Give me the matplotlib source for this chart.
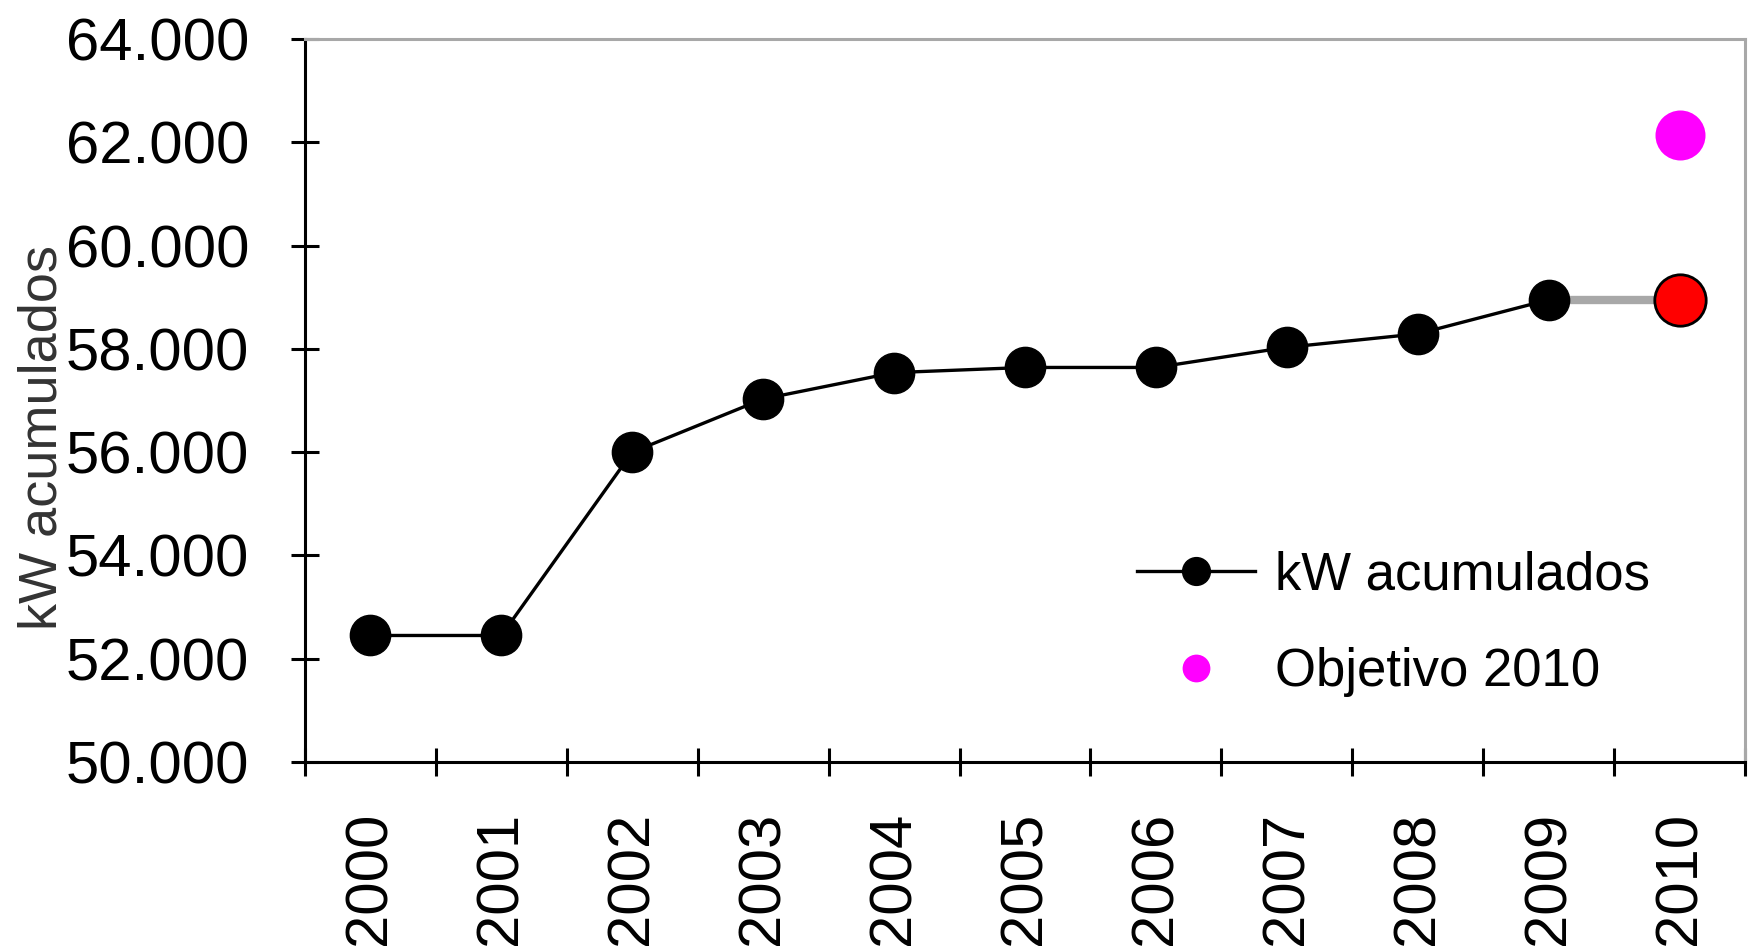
import matplotlib
matplotlib.use('Agg')
import matplotlib.pyplot as plt
from matplotlib.lines import Line2D
from matplotlib.ticker import FuncFormatter, FixedLocator

plt.rcParams['font.family'] = ['Liberation Sans', 'DejaVu Sans']

years = ['2000', '2001', '2002', '2003', '2004', '2005',
         '2006', '2007', '2008', '2009', '2010']
kw_acumulados = [52450, 52450, 56000, 57030, 57540, 57640,
                 57640, 58030, 58290, 58950]
kw_2010 = 58950
objetivo_2010 = 62150

fig = plt.figure(figsize=(17.57, 9.49), dpi=100)
ax = fig.add_axes([305 / 1757, 1 - 762 / 949, 1440 / 1757, 723 / 949])

x = list(range(len(kw_acumulados)))
x_2010 = years.index('2010')

# gray link from 2009 to the 2010 point
ax.plot([x[-1], x_2010], [kw_acumulados[-1], kw_2010], color='#a8a8a8',
        lw=6, zorder=2, solid_capstyle='butt')
ax.plot(x, kw_acumulados, color='black', lw=2.4, marker='o',
        markersize=29, markerfacecolor='black', markeredgecolor='black',
        zorder=3)
ax.plot([x_2010], [kw_2010], marker='o', markersize=37, color='#ff0000',
        markeredgecolor='black', markeredgewidth=2, zorder=4)
ax.plot([x_2010], [objetivo_2010], marker='o', markersize=36,
        color='#ff00ff', markeredgewidth=0, linestyle='none', zorder=4)

ax.set_xlim(-0.5, len(years) - 0.5)
ax.set_ylim(50000, 64000)

ax.set_xticks(range(len(years)))
ax.set_xticklabels(years, rotation=90)
ax.xaxis.set_minor_locator(FixedLocator([i + 0.5 for i in range(-1, len(years))]))
ax.tick_params(axis='x', which='major', length=0, pad=36, labelsize=43)
ax.tick_params(axis='x', which='minor', direction='inout', length=20, width=2.2)

ax.set_yticks(range(50000, 64001, 2000))
ax.yaxis.set_major_formatter(FuncFormatter(lambda v, p: f'{v:,.0f}'.replace(',', '.')))
ax.tick_params(axis='y', direction='inout', length=20, width=2.2, pad=30,
               labelsize=43)

ax.set_ylabel('kW acumulados', fontsize=39, color='#333333', va='center')
ax.yaxis.set_label_coords(-0.1825, 0.4495)

for side in ['left', 'bottom']:
    ax.spines[side].set_color('black')
    ax.spines[side].set_linewidth(2.2)
for side in ['top', 'right']:
    ax.spines[side].set_color('#a8a8a8')
    ax.spines[side].set_linewidth(2.2)

handles = [
    Line2D([], [], color='black', lw=2.4, marker='o', markersize=20),
    Line2D([], [], color='#ff00ff', marker='o', markersize=20,
           markeredgewidth=0, linestyle='none'),
]
ax.legend(handles, ['kW acumulados', 'Objetivo 2010'], loc='upper left',
          bbox_to_anchor=(1137 / 1757, 1 - 550 / 949),
          bbox_transform=fig.transFigure, frameon=False, fontsize=38,
          borderpad=0, borderaxespad=0, handlelength=2.23,
          handletextpad=0.38, labelspacing=0.89)

fig.savefig('out.png', dpi=100)
